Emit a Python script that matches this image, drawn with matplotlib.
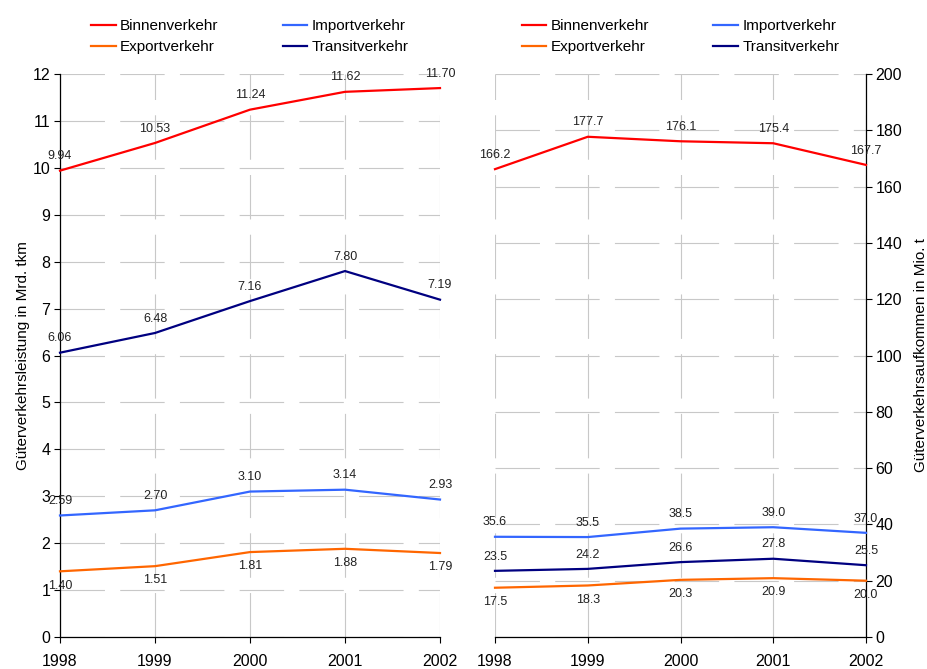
import matplotlib
matplotlib.use("Agg")
import matplotlib.pyplot as plt

plt.rcParams['font.family'] = ['Liberation Sans', 'DejaVu Sans']
plt.rcParams['lines.scale_dashes'] = False

years = [1998, 1999, 2000, 2001, 2002]
series_names = ["Binnenverkehr", "Importverkehr", "Exportverkehr", "Transitverkehr"]
colors = {"Binnenverkehr": "#FF0000", "Importverkehr": "#3366FF",
          "Exportverkehr": "#FF6600", "Transitverkehr": "#000080"}

# Left: Güterverkehrsleistung in Mrd. tkm
left_binnen = [9.94, 10.53, 11.24, 11.62, 11.70]
left_import = [2.59, 2.70, 3.10, 3.14, 2.93]
left_export = [1.40, 1.51, 1.81, 1.88, 1.79]
left_transit = [6.06, 6.48, 7.16, 7.80, 7.19]

# Right: Güterverkehrsaufkommen in Mio. t
right_binnen = [166.2, 177.7, 176.1, 175.4, 167.7]
right_import = [35.6, 35.5, 38.5, 39.0, 37.0]
right_export = [17.5, 18.3, 20.3, 20.9, 20.0]
right_transit = [23.5, 24.2, 26.6, 27.8, 25.5]

W, H = 928, 669
fig = plt.figure(figsize=(W/100, H/100), dpi=100)

def rect(x0, x1, ytop, ybot):
    return [x0/W, 1 - ybot/H, (x1-x0)/W, (ybot-ytop)/H]

axL = fig.add_axes(rect(60, 440, 74, 637))
axR = fig.add_axes(rect(495, 866, 74, 637))

grid_kw = dict(color="#C8C8C8", linewidth=0.8, linestyle=(0, (32, 11)))

def setup(ax, ymax, ystep, right=False):
    ax.set_xlim(1998, 2002)
    ax.set_ylim(0, ymax)
    ax.set_xticks(years)
    ax.set_xticklabels([str(y) for y in years])
    ax.set_yticks(range(0, ymax + 1, ystep))
    ax.grid(True, **grid_kw)
    ax.set_axisbelow(True)
    ax.spines["top"].set_visible(False)
    if right:
        ax.spines["left"].set_visible(False)
        ax.yaxis.tick_right()
        ax.yaxis.set_label_position("right")
    else:
        ax.spines["right"].set_visible(False)
    ax.tick_params(axis="both", direction="out", length=4, width=0.8, labelsize=11.5, pad=3)
    ax.tick_params(axis="x", labelsize=11.5, pad=8)
    for s in ax.spines.values():
        s.set_linewidth(0.9)

setup(axL, 12, 1)
setup(axR, 200, 20, right=True)

def plot_series(ax, data, fmt):
    for name, vals, pos in data:
        ax.plot(years, vals, color=colors[name], linewidth=1.6, label=name, clip_on=False, zorder=3)
        for x, v in zip(years, vals):
            if pos == "above":
                ax.annotate(fmt.format(v), (x, v), xytext=(0, 6), textcoords="offset points",
                            ha="center", va="bottom", fontsize=9, color="#222222", zorder=4)
            else:
                ax.annotate(fmt.format(v), (x, v), xytext=(0, -6), textcoords="offset points",
                            ha="center", va="top", fontsize=9, color="#222222", zorder=4)

plot_series(axL, [("Binnenverkehr", left_binnen, "above"),
                  ("Importverkehr", left_import, "above"),
                  ("Exportverkehr", left_export, "below"),
                  ("Transitverkehr", left_transit, "above")], "{:.2f}")
plot_series(axR, [("Binnenverkehr", right_binnen, "above"),
                  ("Importverkehr", right_import, "above"),
                  ("Exportverkehr", right_export, "below"),
                  ("Transitverkehr", right_transit, "above")], "{:.1f}")

axL.set_ylabel("Güterverkehrsleistung in Mrd. tkm", fontsize=11, labelpad=2)
axR.set_ylabel("Güterverkehrsaufkommen in Mio. t", fontsize=11, labelpad=8, rotation=90)

def legend(ax):
    handles = {l.get_label(): l for l in ax.get_lines()}
    order = ["Binnenverkehr", "Exportverkehr", "Importverkehr", "Transitverkehr"]
    ax.legend([handles[n] for n in order], order, ncol=2, loc="lower center",
              bbox_to_anchor=(0.5, 1.0), bbox_transform=ax.transAxes,
              frameon=False, fontsize=11, handlelength=1.6, handletextpad=0.3,
              columnspacing=4.2, labelspacing=0.45, borderaxespad=0.9)

legend(axL)
legend(axR)

fig.savefig("out.png", dpi=100)
